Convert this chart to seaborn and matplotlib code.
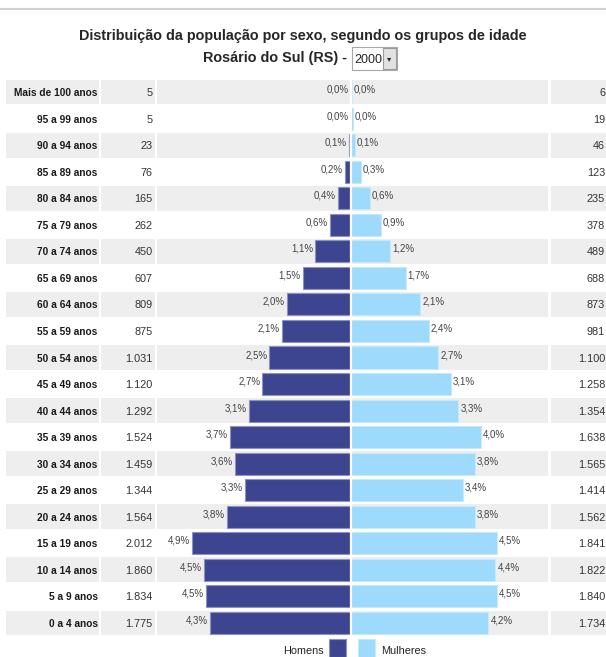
import matplotlib
matplotlib.use('Agg')
import matplotlib.pyplot as plt
import matplotlib.patches as mpatches
import pandas as pd
import seaborn as sns

# Age groups, counts and rounded shares as printed on the chart
idades = ['Mais de 100 anos', '95 a 99 anos', '90 a 94 anos', '85 a 89 anos', '80 a 84 anos',
          '75 a 79 anos', '70 a 74 anos', '65 a 69 anos', '60 a 64 anos', '55 a 59 anos',
          '50 a 54 anos', '45 a 49 anos', '40 a 44 anos', '35 a 39 anos', '30 a 34 anos',
          '25 a 29 anos', '20 a 24 anos', '15 a 19 anos', '10 a 14 anos', '5 a 9 anos',
          '0 a 4 anos']
homens = [5, 5, 23, 76, 165, 262, 450, 607, 809, 875, 1031, 1120, 1292, 1524, 1459,
          1344, 1564, 2012, 1860, 1834, 1775]
mulheres = [6, 19, 46, 123, 235, 378, 489, 688, 873, 981, 1100, 1258, 1354, 1638, 1565,
            1414, 1562, 1841, 1822, 1840, 1734]
pct_homens = ['0,0%', '0,0%', '0,1%', '0,2%', '0,4%', '0,6%', '1,1%', '1,5%', '2,0%', '2,1%',
              '2,5%', '2,7%', '3,1%', '3,7%', '3,6%', '3,3%', '3,8%', '4,9%', '4,5%', '4,5%',
              '4,3%']
pct_mulheres = ['0,0%', '0,0%', '0,1%', '0,3%', '0,6%', '0,9%', '1,2%', '1,7%', '2,1%', '2,4%',
                '2,7%', '3,1%', '3,3%', '4,0%', '3,8%', '3,4%', '3,8%', '4,5%', '4,4%', '4,5%',
                '4,2%']

df = pd.DataFrame({'idade': idades, 'homens': homens, 'mulheres': mulheres})
df['homens_neg'] = -df['homens']

sns.set_style('white')
plt.rcParams['font.family'] = ['Liberation Sans', 'DejaVu Sans']

COR_H = '#3d4590'
COR_M = '#9ddafb'
CINZA = '#eeeeee'

W, H = 606, 657
fig = plt.figure(figsize=(W / 100, H / 100), dpi=100)


def fmt(n):
    return f'{n:,}'.replace(',', '.')


def fy(y):
    # pixel row from the top -> figure fraction
    return 1 - y / H


def col_axes(x0, x1, top=79, bottom=636):
    ax = fig.add_axes([x0 / W, fy(bottom), (x1 - x0) / W, (bottom - top) / H])
    ax.set_ylim(len(idades) - 0.5, -0.5)
    ax.axis('off')
    for i in range(0, len(idades), 2):
        ax.axhspan(i - 0.46, i + 0.46, color=CINZA, zorder=0, lw=0)
    return ax


# table columns
ax_lab = col_axes(6, 99)
ax_cnt = col_axes(101, 155)
ax_bar = col_axes(157, 548)
ax_rc = col_axes(551, 606)
for ax in (ax_lab, ax_cnt, ax_rc):
    ax.set_xlim(0, 1)

for i, nome in enumerate(idades):
    ax_lab.text(0.985, i, nome, ha='right', va='center_baseline', fontsize=7.3,
                fontweight='bold', color='#1a1a1a')
    ax_cnt.text(0.955, i, fmt(homens[i]), ha='right', va='center_baseline', fontsize=7.8,
                color='#333333')
    ax_rc.text(0.985, i, fmt(mulheres[i]), ha='right', va='center_baseline', fontsize=7.8,
               color='#333333')

# pyramid bars
sns.barplot(data=df, x='homens_neg', y='idade', order=idades, orient='h', color=COR_H,
            saturation=1, width=0.83, edgecolor='#8d92c6', linewidth=0.8, ax=ax_bar, zorder=2)
sns.barplot(data=df, x='mulheres', y='idade', order=idades, orient='h', color=COR_M,
            saturation=1, width=0.83, edgecolor='#c4eafc', linewidth=0.8, ax=ax_bar, zorder=2)
ax_bar.set_xlim(-2450, 2487)
ax_bar.set_ylim(len(idades) - 0.5, -0.5)
ax_bar.axvline(0, color='white', lw=1.6, zorder=3)
ax_bar.axis('off')

for i in range(len(idades)):
    ax_bar.annotate(pct_homens[i], (-homens[i], i), xytext=(-1.5, 2.5), textcoords='offset points',
                    ha='right', va='center_baseline', fontsize=7, color='#444444')
    ax_bar.annotate(pct_mulheres[i], (mulheres[i], i), xytext=(1.5, 2.5), textcoords='offset points',
                    ha='left', va='center_baseline', fontsize=7, color='#444444')

# title
fig.add_artist(plt.Line2D([0, 1], [fy(9), fy(9)], color='#d0d0d0', lw=1.5))
fig.text(0.5, fy(40), 'Distribuição da população por sexo, segundo os grupos de idade',
         ha='center', va='baseline', fontsize=10.4, fontweight='bold')
fig.text(347 / W, fy(62), 'Rosário do Sul (RS) -', ha='right', va='baseline',
         fontsize=10.4, fontweight='bold')

# year selector
fig.add_artist(mpatches.Rectangle((352 / W, fy(70)), 45 / W, 23 / H, transform=fig.transFigure,
                                  facecolor='white', edgecolor='#a8a8a8', lw=0.8))
fig.add_artist(mpatches.Rectangle((383 / W, fy(69)), 13 / W, 21 / H, transform=fig.transFigure,
                                  facecolor='#e2e2e2', edgecolor='#9a9a9a', lw=0.8))
fig.text(354 / W, fy(63), '2000', ha='left', va='baseline', fontsize=9)
fig.text(389.5 / W, fy(58.5), '▾', ha='center', va='center', fontsize=6, family='DejaVu Sans')

# legend
fig.add_artist(mpatches.Rectangle((329 / W, 0), 17 / W, 18 / H, transform=fig.transFigure,
                                  facecolor=COR_H, edgecolor='#8d92c6', lw=0.8))
fig.add_artist(mpatches.Rectangle((358 / W, 0), 17 / W, 18 / H, transform=fig.transFigure,
                                  facecolor=COR_M, edgecolor='#c4eafc', lw=0.8))
fig.text(324 / W, fy(654), 'Homens', ha='right', va='baseline', fontsize=7.8, color='#222222')
fig.text(381 / W, fy(654), 'Mulheres', ha='left', va='baseline', fontsize=7.8, color='#222222')

fig.savefig('out.png', dpi=100, facecolor='white')
